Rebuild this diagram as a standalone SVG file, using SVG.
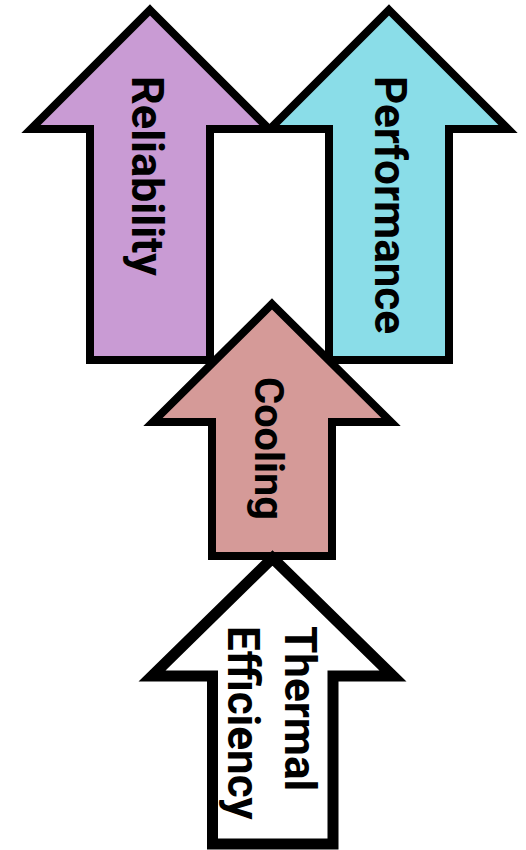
<svg xmlns="http://www.w3.org/2000/svg" width="526" height="850" viewBox="0 0 526 850">
  <style>
    .arrow { stroke: #000; stroke-width: 8; stroke-linejoin: miter; stroke-miterlimit: 10; }
    .thick { stroke-width: 11; }
    .label { font-family: Roboto, "Liberation Sans", sans-serif; font-weight: 700; font-size: 44px; fill: #000; }
  </style>
  <rect width="526" height="850" fill="#fff"/>
  <g id="connectors"/>
  <g id="reliability">
    <path class="arrow" fill="#C99BD4" d="M150,10 L269,129 L210,129 L210,360 L90,360 L90,129 L31,129 Z"/>
    <text class="label" style="font-size:45px" transform="translate(132,76) rotate(90)">Reliability</text>
  </g>
  <g id="performance">
    <path class="arrow" fill="#8ADDE8" d="M389,10 L508,129 L449,129 L449,360 L329,360 L329,129 L270,129 Z"/>
    <text class="label" transform="translate(375,76) rotate(90)">Performance</text>
  </g>
  <g id="cooling">
    <path class="arrow" fill="#D59A98" d="M272,304 L391,422 L332,422 L332,556 L212,556 L212,422 L153,422 Z"/>
    <text class="label" style="font-size:41.5px" transform="translate(255,377) rotate(90)">Cooling</text>
  </g>
  <g id="thermal-efficiency">
    <path class="arrow thick" fill="#fff" d="M272.5,558 L393,676 L333,676 L333,844 L212.5,844 L212.5,676 L152,676 Z"/>
    <text class="label" transform="translate(285,626) rotate(90)">Thermal</text>
    <text class="label" transform="translate(228,626) rotate(90)">Efficiency</text>
  </g>
</svg>
